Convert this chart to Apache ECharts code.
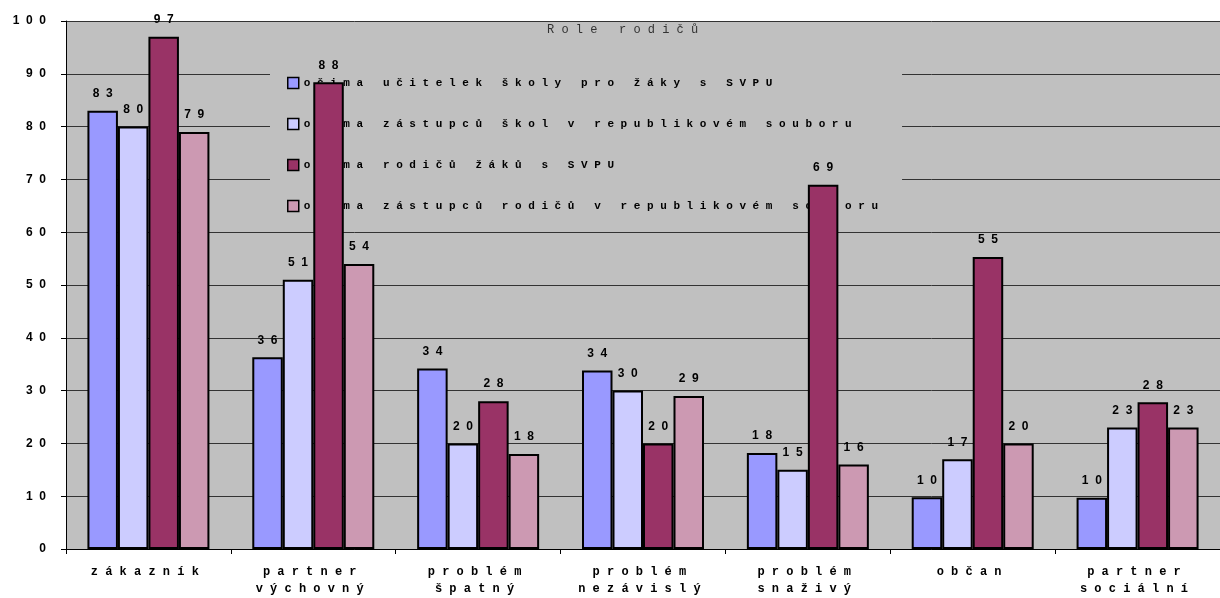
<!DOCTYPE html>
<html>
<head>
<meta charset="utf-8">
<script src="https://cdn.jsdelivr.net/npm/echarts@6/dist/echarts.min.js"></script>
<style>html,body{margin:0;padding:0;background:#fff}#c{width:1220px;height:598px}</style>
</head>
<body>
<div id="c"></div>
<script>
const titleText = 'Role rodičů';
const categories = ['zákazník', 'partner\nvýchovný', 'problém\nšpatný', 'problém\nnezávislý', 'problém\nsnaživý', 'občan', 'partner\nsociální'];
const seriesNames = [
  'očima učitelek školy pro žáky s SVPU',
  'očima zástupců škol v republikovém souboru',
  'očima rodičů žáků s SVPU',
  'očima zástupců rodičů v republikovém souboru'
];
const teachers = [83, 36.3, 34.2, 33.8, 18.2, 9.8, 9.7];
const schoolReps = [80, 51, 20, 30, 15, 17, 23];
const parents = [97, 88.4, 28, 20, 69, 55.3, 27.8];
const parentReps = [79, 54, 18, 29, 16, 20, 23];
const colors = ['#9999FF', '#CCCCFF', '#993366', '#CC99B2'];

function sp(s, sep, trail) { return String(s).split('\n').map(l => l.split('').join(sep) + (trail || '')).join('\n'); }
const MONO = "'Liberation Mono', 'DejaVu Sans Mono', monospace";

const seriesData = [teachers, schoolReps, parents, parentReps];
const chart = echarts.init(document.getElementById('c'));
chart.setOption({
  animation: false,
  backgroundColor: '#ffffff',
  title: {
    text: sp(titleText, ' '),
    left: 547, top: 24, padding: 0,
    textStyle: { fontFamily: MONO, fontSize: 12, fontWeight: 'normal', color: '#333' }
  },
  legend: {
    orient: 'vertical',
    left: 270, top: 67,
    padding: [9, 24, 10, 17],
    backgroundColor: '#C0C0C0',
    z: 1.5,
    itemWidth: 11, itemHeight: 11, itemGap: 27,
    icon: 'rect',
    itemStyle: { borderColor: '#000', borderWidth: 1.5 },
    formatter: n => sp(n, ' '),
    textStyle: { fontFamily: MONO, fontSize: 11, fontWeight: 'bold', color: '#000', lineHeight: 14 },
    data: seriesNames
  },
  grid: { left: 66, top: 21, width: 1167, height: 528, show: true, backgroundColor: '#C0C0C0', borderWidth: 0, z: 0 },
  xAxis: {
    type: 'category', data: categories, z: 3,
    axisLine: { lineStyle: { color: '#000', width: 1 } },
    axisTick: { show: true, length: 5, lineStyle: { color: '#000' } },
    axisLabel: {
      margin: 14, interval: 0,
      formatter: v => sp(v, ' ', ' '),
      fontFamily: MONO, fontSize: 12, fontWeight: 'bold', color: '#000', lineHeight: 17
    }
  },
  yAxis: {
    type: 'value', min: 0, max: 100, interval: 10, z: 1,
    axisLine: { show: true, lineStyle: { color: '#000', width: 1 } },
    axisTick: { show: true, length: 5, lineStyle: { color: '#000' } },
    splitLine: { show: true, lineStyle: { color: '#333', width: 1 } },
    axisLabel: {
      margin: 20,
      formatter: v => sp(v, '  '),
      fontFamily: 'Liberation Sans', fontSize: 12, fontWeight: 'bold', color: '#000'
    }
  },
  series: seriesData.map((d, i) => ({
    name: seriesNames[i],
    type: 'bar', z: 2,
    data: d,
    barGap: '0%', barCategoryGap: '26%',
    itemStyle: { color: colors[i], borderColor: '#000', borderWidth: 2 },
    label: {
      show: true, position: 'top', distance: 11,
      formatter: p => sp(Math.round(p.value), '  '),
      fontFamily: 'Liberation Sans', fontSize: 12, fontWeight: 'bold', color: '#000'
    }
  }))
});
</script>
</body>
</html>
